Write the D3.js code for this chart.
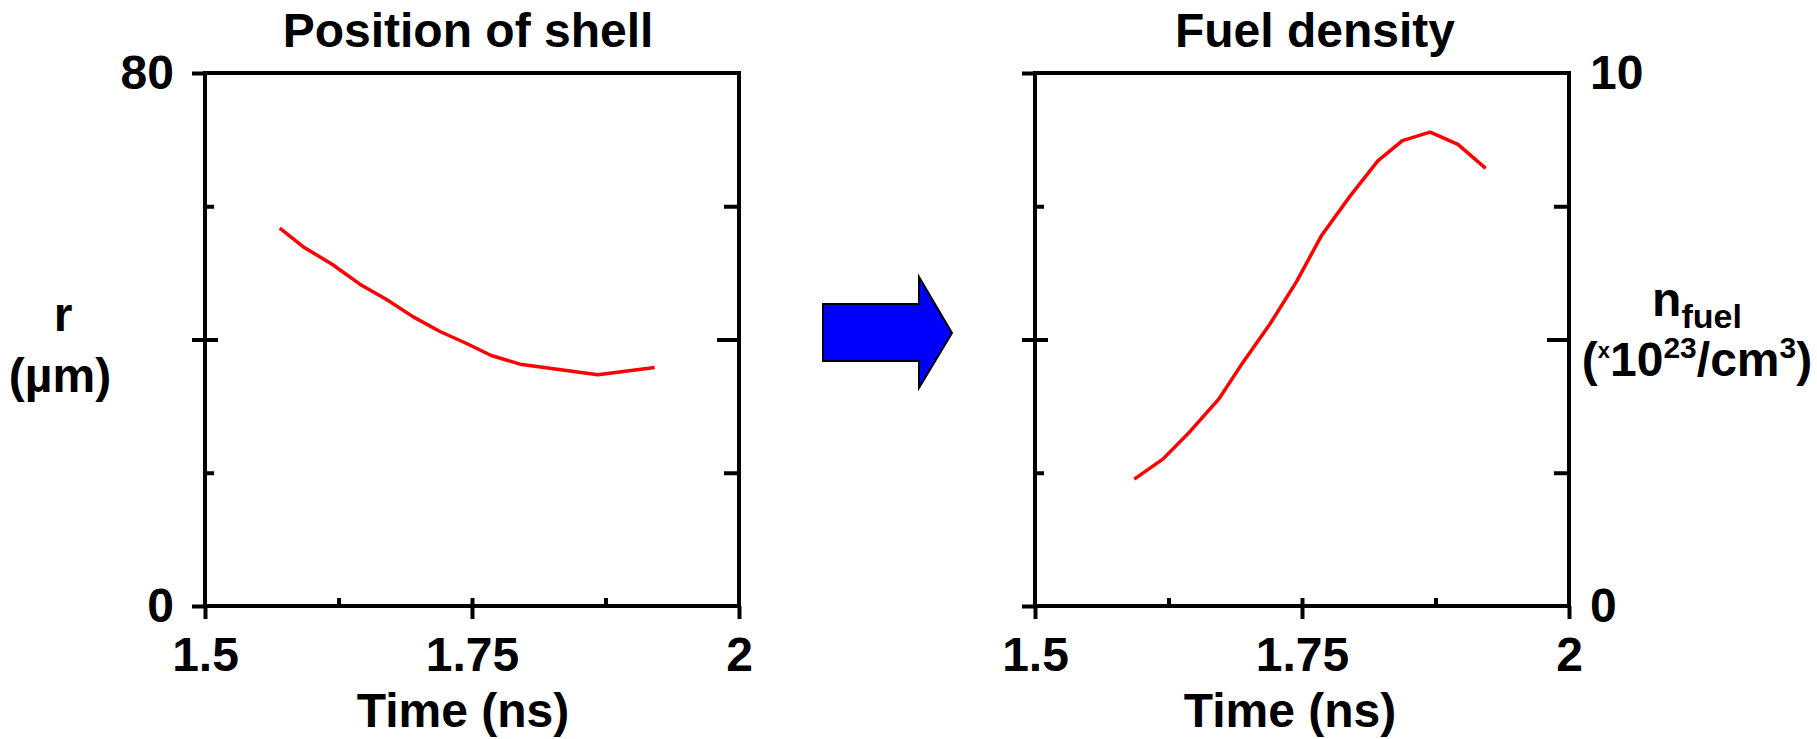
<!DOCTYPE html>
<html>
<head>
<meta charset="utf-8">
<script src="https://cdn.jsdelivr.net/npm/d3@7"></script>
<style>
  html, body { margin: 0; padding: 0; background: #fff; }
  svg { display: block; }
  text { font-family: "Liberation Sans", Arial, sans-serif; font-weight: bold; fill: #000; }
</style>
</head>
<body>
<div id="chart"></div>
<script>
// time axis (ns), shared by both panels
const TIME_TICKS = [1.5, 1.75, 2]
const TIME_MINOR = [1.625, 1.75, 1.875]

// shell position r (µm)
const shellTime = [1.570, 1.593, 1.619, 1.645, 1.670, 1.695, 1.720, 1.745, 1.768, 1.795, 1.868, 1.921]
const shellRadius = [56.7, 53.8, 51.3, 48.3, 46.0, 43.4, 41.2, 39.4, 37.6, 36.3, 34.7, 35.8]

// fuel density (x10^23 /cm3)
const fuelTime = [1.593, 1.620, 1.645, 1.672, 1.695, 1.720, 1.745, 1.768, 1.795, 1.821, 1.844, 1.870, 1.896, 1.922]
const fuelDensity = [2.38, 2.76, 3.27, 3.88, 4.58, 5.29, 6.09, 6.94, 7.69, 8.35, 8.73, 8.89, 8.66, 8.21]

const R_TICKS = [0, 80]
const N_TICKS = [0, 10]

const W = 1817, H = 739
const FONT = 48

const svg = d3.select("#chart").append("svg")
  .attr("width", W).attr("height", H)

/*
 * panel helper: frame, ticks and the red curve
 */
function panel({ left, right, top, bottom, yDomain, yTicks, labelSide, xs, ys, title, titleX, xLabelX }) {
  const x = d3.scaleLinear().domain([1.5, 2]).range([left, right])
  const y = d3.scaleLinear().domain(yDomain).range([bottom, top])
  const yMid = (yDomain[0] + yDomain[1]) / 2
  const yQ = [yDomain[0] + (yDomain[1] - yDomain[0]) / 4, yDomain[0] + 3 * (yDomain[1] - yDomain[0]) / 4]

  const g = svg.append("g")

  // bottom axis with labels (outward)
  g.append("g")
    .attr("transform", `translate(0,${bottom})`)
    .call(d3.axisBottom(x).tickValues(TIME_TICKS).tickSizeInner(13).tickSizeOuter(0)
      .tickPadding(18).tickFormat(d3.format("")))
    .call(a => a.select(".domain").remove())
    .attr("font-size", FONT).attr("font-family", null)

  // bottom inward ticks
  g.append("g")
    .attr("transform", `translate(0,${bottom})`)
    .call(d3.axisBottom(x).tickValues(TIME_MINOR).tickSize(-8).tickFormat(""))
    .call(a => a.select(".domain").remove())

  // left axis outward ticks
  const leftAxis = d3.axisLeft(y).tickValues([yDomain[0], yMid, yDomain[1]])
    .tickSizeInner(13).tickSizeOuter(0).tickPadding(18)
    .tickFormat(d => (labelSide === "left" && d !== yMid) ? d : "")
  g.append("g")
    .attr("transform", `translate(${left},0)`)
    .call(leftAxis)
    .call(a => a.select(".domain").remove())
    .attr("font-size", FONT).attr("font-family", null)

  // left inward ticks
  g.append("g").attr("transform", `translate(${left},0)`)
    .call(d3.axisLeft(y).tickValues(yQ).tickSize(-9).tickFormat(""))
    .call(a => a.select(".domain").remove())
  g.append("g").attr("transform", `translate(${left},0)`)
    .call(d3.axisLeft(y).tickValues([yMid]).tickSize(-13).tickFormat(""))
    .call(a => a.select(".domain").remove())

  // right inward ticks
  g.append("g").attr("transform", `translate(${right},0)`)
    .call(d3.axisRight(y).tickValues(yQ).tickSize(-15).tickFormat(""))
    .call(a => a.select(".domain").remove())
  g.append("g").attr("transform", `translate(${right},0)`)
    .call(d3.axisRight(y).tickValues([yMid]).tickSize(-22).tickFormat(""))
    .call(a => a.select(".domain").remove())

  // right labels
  if (labelSide === "right") {
    g.append("g").attr("transform", `translate(${right},0)`)
      .call(d3.axisRight(y).tickValues(yTicks).tickSize(0).tickPadding(21).tickFormat(d3.format("")))
      .call(a => a.select(".domain").remove())
      .attr("font-size", FONT).attr("font-family", null)
  }

  g.selectAll(".tick line").attr("stroke", "#000").attr("stroke-width", 4)

  // frame
  g.append("rect")
    .attr("x", left).attr("y", top)
    .attr("width", right - left).attr("height", bottom - top)
    .attr("fill", "none").attr("stroke", "#000").attr("stroke-width", 4)

  // curve
  const line = d3.line().x(d => x(d[0])).y(d => y(d[1]))
  g.append("path")
    .datum(d3.zip(xs, ys))
    .attr("d", line)
    .attr("fill", "none").attr("stroke", "#ff0000").attr("stroke-width", 3.5)
    .attr("stroke-linejoin", "round")

  // title
  g.append("text").attr("x", titleX).attr("y", 47)
    .attr("text-anchor", "middle").attr("font-size", FONT).text(title)

  // x label
  g.append("text").attr("x", xLabelX).attr("y", 727)
    .attr("text-anchor", "middle").attr("font-size", FONT).text("Time (ns)")

  return g
}

panel({
  left: 205, right: 739, top: 73, bottom: 606,
  yDomain: [0, 80], yTicks: R_TICKS, labelSide: "left",
  xs: shellTime, ys: shellRadius,
  title: "Position of shell", titleX: 468, xLabelX: 463,
})

panel({
  left: 1035, right: 1569, top: 73, bottom: 606,
  yDomain: [0, 10], yTicks: N_TICKS, labelSide: "right",
  xs: fuelTime, ys: fuelDensity,
  title: "Fuel density", titleX: 1315, xLabelX: 1290,
})

// left y label
svg.append("text").attr("x", 63).attr("y", 331)
  .attr("text-anchor", "middle").attr("font-size", FONT).text("r")
svg.append("text").attr("x", 60).attr("y", 392)
  .attr("text-anchor", "middle").attr("font-size", FONT).text("(µm)")

// right y label
const nLabel = svg.append("text").attr("x", 1697).attr("y", 316)
  .attr("text-anchor", "middle").attr("font-size", FONT)
nLabel.append("tspan").text("n")
nLabel.append("tspan").attr("font-size", 34).attr("dy", 12).text("fuel")

const unit = svg.append("text").attr("x", 1697).attr("y", 376)
  .attr("text-anchor", "middle").attr("font-size", FONT)
unit.append("tspan").text("(")
unit.append("tspan").attr("font-size", 22).attr("dy", -18).text("x")
unit.append("tspan").attr("dy", 18).text("10")
unit.append("tspan").attr("font-size", 30).attr("dy", -18).text("23")
unit.append("tspan").attr("dy", 18).text("/cm")
unit.append("tspan").attr("font-size", 30).attr("dy", -18).text("3")
unit.append("tspan").attr("dy", 18).text(")")

// arrow between panels
const arrow = [[823, 304], [919, 304], [919, 277], [952, 333], [919, 388], [919, 361], [823, 361]]
svg.append("path")
  .attr("d", d3.line()(arrow) + "Z")
  .attr("fill", "#0000ff").attr("stroke", "#000").attr("stroke-width", 2)
  .attr("stroke-linejoin", "miter")
</script>
</body>
</html>
